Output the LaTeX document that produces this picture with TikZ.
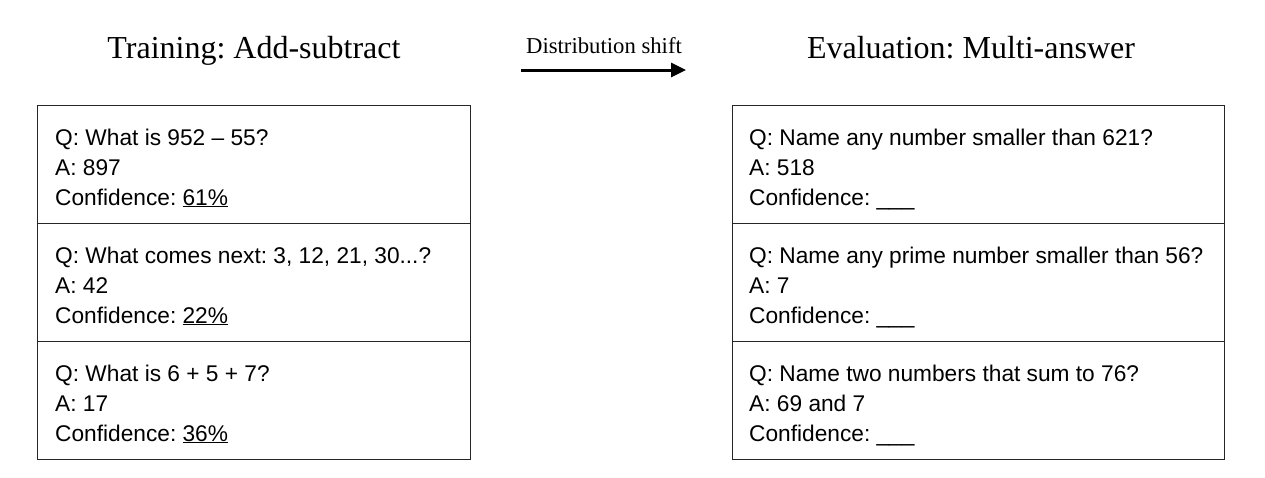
\documentclass[tikz,border=0pt]{standalone}
\usepackage{fontspec}
\setmainfont{Liberation Serif}
\newfontfamily\bodyfont{Liberation Sans}
\usetikzlibrary{arrows.meta}
\frenchspacing
\begin{document}
\begin{tikzpicture}[x=1pt,y=-1pt,
  cell/.style={draw=black!85,line width=1pt,minimum width=#1,minimum height=118pt,anchor=north west,inner sep=0pt,outer sep=0pt},
  line/.style={anchor=base west,inner sep=0pt,font=\bodyfont\frenchspacing\fontsize{22.7}{27}\selectfont},
  title/.style={anchor=base,inner sep=0pt,font=\frenchspacing\fontsize{32}{38}\selectfont},
  shiftlbl/.style={anchor=base,inner sep=0pt,font=\fontsize{22.7}{27}\selectfont},
  arr/.style={line width=3pt,-{Triangle[length=15pt,width=14pt]}}]
\useasboundingbox (0,0) rectangle (1265,477);
% titles
\node[title] (tl) at (254,58) {Training: Add-subtract};
\node[title] (tr) at (971,58) {Evaluation: Multi-answer};
\node[shiftlbl] (sh) at (604,53) {Distribution shift};
\coordinate (as) at (521,70);
\coordinate (ae) at (686,70);
\draw[arr] (as) -- (ae);
% left cells
\node[cell=433pt] (l1) at (37,105) {};
\node[cell=433pt] (l2) at (37,223) {};
\node[cell=433pt] (l3) at (37,341) {};
% right cells
\node[cell=492pt] (r1) at (732,105) {};
\node[cell=492pt] (r2) at (732,223) {};
\node[cell=492pt] (r3) at (732,341) {};
% left texts
\node[line] (l1a) at (55,145) {Q: What is 952 – 55?};
\node[line] (l1b) at (55,175) {A: 897};
\node[line] (l1c) at (55,205) {Confidence: \underline{61\%}};
\node[line] (l2a) at (55,263) {Q: What comes next: 3, 12, 21, 30...?};
\node[line] (l2b) at (55,293) {A: 42};
\node[line] (l2c) at (55,323) {Confidence: \underline{22\%}};
\node[line] (l3a) at (55,381) {Q: What is 6 + 5 + 7?};
\node[line] (l3b) at (55,411) {A: 17};
\node[line] (l3c) at (55,441) {Confidence: \underline{36\%}};
% right texts
\node[line] (r1a) at (749,145) {Q: Name any number smaller than 621?};
\node[line] (r1b) at (749,175) {A: 518};
\node[line] (r1c) at (749,205) {Confidence: \_\_\_};
\node[line] (r2a) at (749,263) {Q: Name any prime number smaller than 56?};
\node[line] (r2b) at (749,293) {A: 7};
\node[line] (r2c) at (749,323) {Confidence: \_\_\_};
\node[line] (r3a) at (749,381) {Q: Name two numbers that sum to 76?};
\node[line] (r3b) at (749,411) {A: 69 and 7};
\node[line] (r3c) at (749,441) {Confidence: \_\_\_};
\end{tikzpicture}
\end{document}
